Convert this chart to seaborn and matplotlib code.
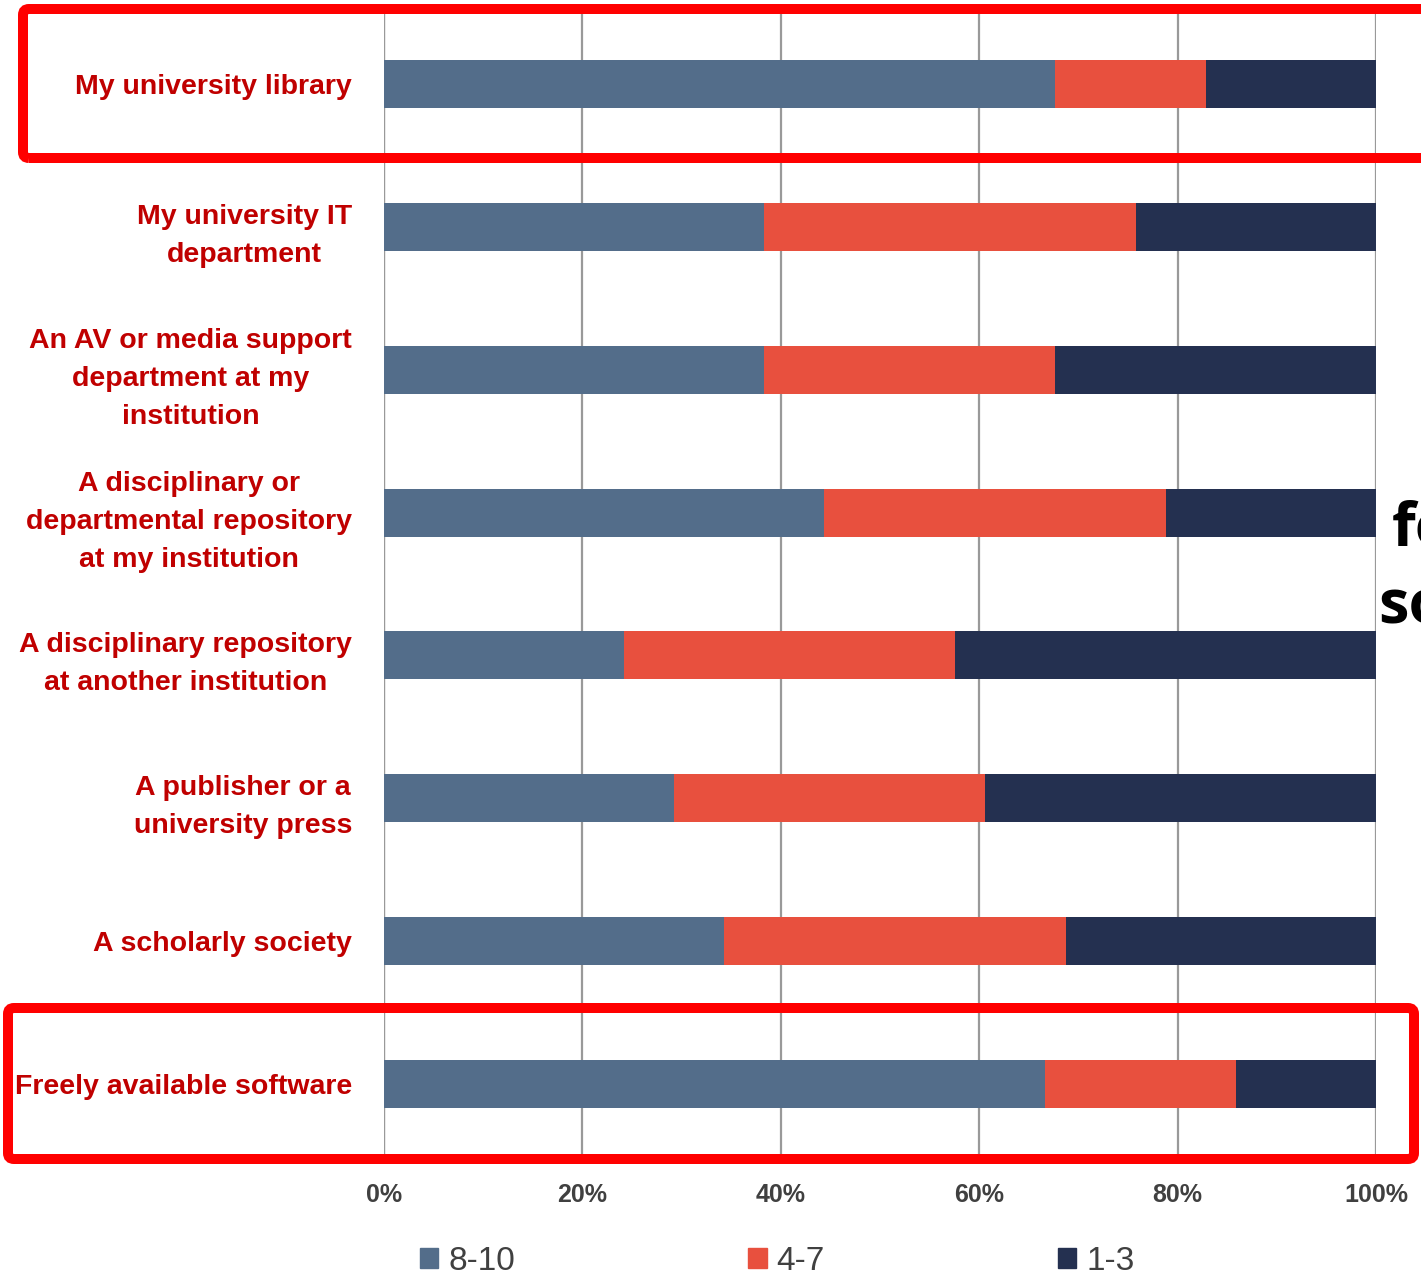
import pandas as pd
import seaborn as sns
import matplotlib.pyplot as plt
from matplotlib.patches import FancyBboxPatch, Patch

# Data (percent of respondents)
sources = [
    "My university library",
    "My university IT\ndepartment",
    "An AV or media support\ndepartment at my\ninstitution",
    "A disciplinary or\ndepartmental repository\nat my institution",
    "A disciplinary repository\nat another institution",
    "A publisher or a\nuniversity press",
    "A scholarly society",
    "Freely available software",
]
high = [67.6, 38.3, 38.3, 44.4, 24.2, 29.2, 34.3, 66.6]   # 8-10
mid = [15.3, 37.5, 29.3, 34.4, 33.4, 31.4, 34.5, 19.3]    # 4-7
low = [17.1, 24.2, 32.4, 21.2, 42.4, 39.4, 31.2, 14.1]    # 1-3
series = ["8-10", "4-7", "1-3"]
colors = ["#536D8A", "#E8503E", "#243050"]
label_red = "#C00000"

df = pd.DataFrame({"source": sources, "high": high, "mid": mid, "low": low})
df["cum_mid"] = df["high"] + df["mid"]
df["cum_low"] = df["cum_mid"] + df["low"]

sns.set_theme(style="white")
plt.rcParams["font.family"] = ["Liberation Sans", "DejaVu Sans"]

fig = plt.figure(figsize=(14.21, 12.79), dpi=100)
ax = fig.add_axes([0.2702, 0.0966, 0.6981, 0.8936])

# stacked bars: draw cumulative totals from back to front
w = 0.336
sns.barplot(data=df, y="source", x="cum_low", color=colors[2], width=w,
            orient="h", ax=ax, saturation=1, zorder=3, linewidth=0)
sns.barplot(data=df, y="source", x="cum_mid", color=colors[1], width=w,
            orient="h", ax=ax, saturation=1, zorder=3, linewidth=0)
sns.barplot(data=df, y="source", x="high", color=colors[0], width=w,
            orient="h", ax=ax, saturation=1, zorder=3, linewidth=0)

ax.set_xlim(0, 100)
ax.set_ylim(len(sources) - 0.5, -0.5)
ax.set_xticks(range(0, 101, 20))
ax.set_xticklabels([f"{v}%" for v in range(0, 101, 20)])
ax.set_xlabel("")
ax.set_ylabel("")
for s in ax.spines.values():
    s.set_visible(False)
ax.xaxis.grid(True, color="#999999", linewidth=1.6, zorder=0)
ax.axvline(0, color="#999999", linewidth=1.6, zorder=1)
ax.tick_params(axis="x", length=0, pad=20, labelsize=18, labelcolor="#404040")
ax.tick_params(axis="y", length=0, pad=23, labelsize=20.5, labelcolor=label_red)
for t in ax.get_xticklabels():
    t.set_fontweight("bold")
for t in ax.get_yticklabels():
    t.set_fontweight("bold")
    t.set_multialignment("center")
    t.set_linespacing(1.6)

# legend
handles = [Patch(color=c, label=s) for c, s in zip(colors, series)]
fig.legend(handles=handles, loc="center", bbox_to_anchor=(0.547, 0.0135),
           ncol=3, frameon=False, fontsize=24, handlelength=0.55,
           handleheight=0.55, handletextpad=0.3, columnspacing=7.0,
           labelcolor="#404040")

# red highlight boxes (figure pixel coords, origin bottom-left)
H = 1279
def box(x0, y0_top, x1, y1_bot):
    p = FancyBboxPatch((x0, H - y1_bot), x1 - x0, y1_bot - y0_top,
                       boxstyle="round,pad=0,rounding_size=6",
                       transform=None, fill=False, edgecolor="#FF0000",
                       linewidth=7.2, clip_on=False, zorder=10)
    fig.patches.append(p)

box(23, 9, 1460, 158)
box(8, 1008, 1414, 1159)

# slide text running off the right edge, as in the screenshot
fig.text(1392 / 1421, 1 - 530 / H, "fe", fontsize=44, fontweight="bold",
         color="black", va="center", ha="left", family=["Open Sans", "DejaVu Sans"])
fig.text(1378 / 1421, 1 - 608 / H, "so", fontsize=44, fontweight="bold",
         color="black", va="center", ha="left", family=["Open Sans", "DejaVu Sans"])

fig.savefig("out.png", dpi=100)
